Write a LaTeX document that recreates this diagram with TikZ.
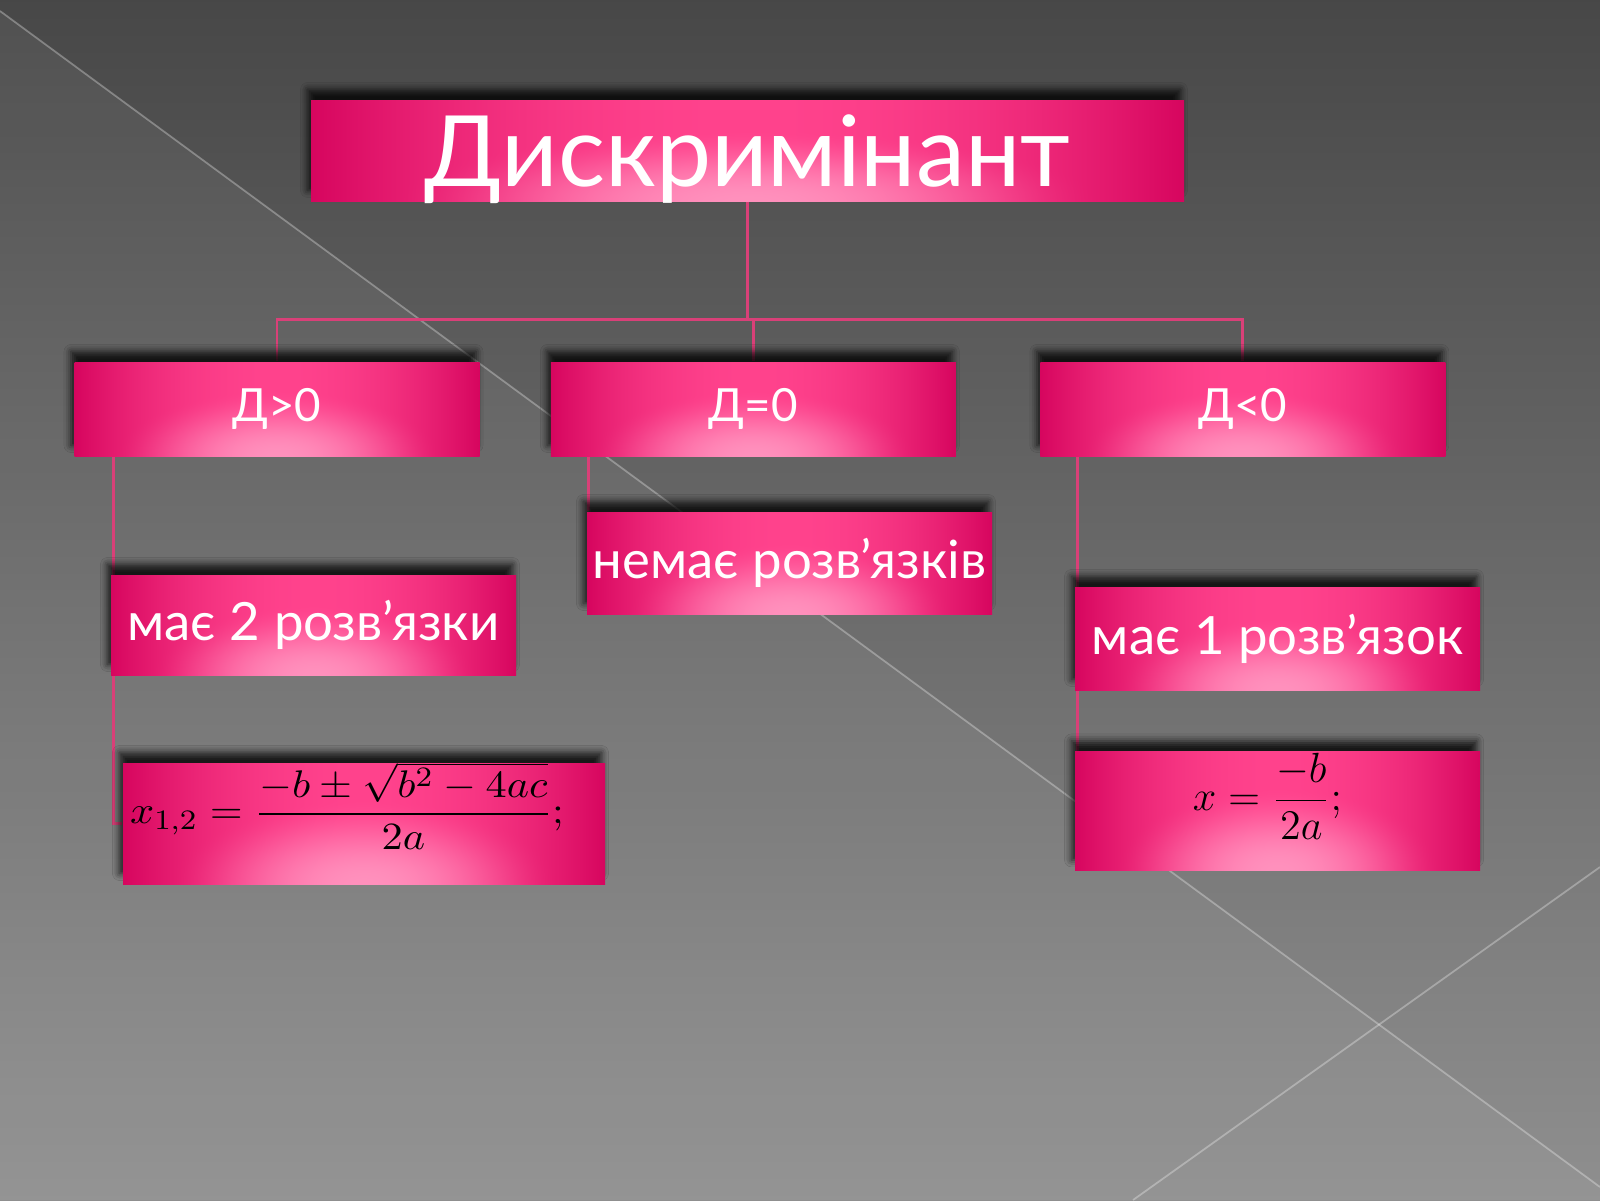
\documentclass[tikz,border=0pt]{standalone}
\usepackage{fontspec}
\setmainfont{Lato}
\usepackage{amsmath}
\usepackage{graphicx}
\usepackage{tikz}
\usetikzlibrary{positioning, calc, shadows.blur}
\definecolor{bgtop}{rgb}{0.28, 0.28, 0.28}
\definecolor{bgbot}{rgb}{0.56, 0.56, 0.56}
\definecolor{pinkline}{rgb}{0.85, 0.25, 0.47}
%% pink bar: dark edges, bright middle, light glow at the bottom centre
\pgfdeclarefunctionalshading{pinkshade}{\pgfpoint{-50bp}{-50bp}}{\pgfpoint{50bp}{50bp}}{}{
	2 mul exch 2 mul exch
	50 add 70 div dup mul exch dup 40 div dup mul 3 -1 roll add 1 exch sub dup 0 lt {pop 0} if dup mul 0.9 mul
	exch abs 50 div dup mul
	dup -0.16 mul 1 add dup 1 exch sub 3 index mul add
	1 index -0.24 mul 0.26 add dup 0.60 exch sub 4 index mul add
	2 index -0.18 mul 0.55 add dup 0.76 exch sub 5 index mul add
	5 3 roll pop pop
}
\pgfdeclarelayer{bg}
\pgfdeclarelayer{wires}
\pgfsetlayers{bg,wires,main}

\begin{document}
\begin{tikzpicture}[scale=1, every node/.style={transform shape}]
		\tikzstyle{pinkbox}=[rectangle, inner sep=0pt, minimum height=9.4mm, minimum width=40.5mm, shade, shading=pinkshade, text=white, font=\fontsize{15pt}{18pt}\selectfont, blur shadow={shadow xshift=-1pt, shadow yshift=3pt, shadow blur radius=2pt, shadow opacity=80}]
		\tikzstyle{formbox}=[pinkbox, text=black]
		\tikzstyle{link}=[draw=pinkline, line width=0.8pt]
		\tikzstyle{ray}=[draw=white, opacity=0.3, line width=0.5pt]
		
		\useasboundingbox (0,0) rectangle (16,-12);
		
		\node [pinkbox, minimum width=87.3mm, minimum height=10.1mm, text height=7.1mm, text depth=0mm, font=\fontsize{28pt}{33pt}\selectfont] (Disc) at (7.475,-1.505) {Дискримінант};
		
		\node [pinkbox, font=\fontsize{13pt}{16pt}\selectfont] (Gt) at (2.77,-4.09) {Д>0};
		\node [pinkbox, font=\fontsize{13pt}{16pt}\selectfont, right=0.7cm of Gt] (Eq) {Д=0};
		\node [pinkbox, font=\fontsize{13pt}{16pt}\selectfont, right=0.83cm of Eq] (Lt) {Д<0};
		
		\node [pinkbox, minimum height=10mm] (Two) at (3.135,-6.25) {має 2 розв’язки};
		\node [pinkbox, minimum height=10.2mm] (None) at (7.895,-5.63) {немає розв’язків};
		\node [pinkbox, minimum height=10.3mm] (One) at (12.775,-6.385) {має 1 розв’язок};
		
		\node [formbox, minimum width=48.2mm, minimum height=12.1mm, font=\fontsize{11pt}{13pt}\selectfont] (F2) at (3.64,-8.235) {\makebox[0pt]{\smash{\scalebox{1.1}[1]{$\displaystyle x_{1,2}=\frac{-b\pm\sqrt{b^2-4ac}}{2a};$}}\hspace{3.4mm}}};
		\node [formbox, minimum height=11.9mm, below=0.6cm of One, font=\fontsize{12.2pt}{14pt}\selectfont] (F1) {\makebox[0pt]{\smash{$\displaystyle x=\frac{-b}{2a};$}\hspace{2mm}}};
		
		%% connectors under the boxes
		\begin{pgfonlayer}{wires}
		\coordinate (Bus) at ($(Disc.south)+(0,-1.18)$);
		\draw [link] (Disc.south) -- (Bus) -| (Gt.north);
		\draw [link] (Bus) -| (Eq.north);
		\draw [link] (Bus) -| (Lt.north);
		
		\draw [link] ([xshift=4mm]Gt.south west) |- (F2.west);
		\coordinate (Nc) at ([xshift=0.2mm]None.north west);
		\draw [link] (Nc) -- (Nc |- Eq.south);
		\coordinate (Oc) at ([xshift=0.3mm]F1.north west);
		\draw [link] (Oc) -- (Oc |- Lt.south);
		\end{pgfonlayer}
		
		%% background
		\begin{pgfonlayer}{bg}
		\fill [top color=bgtop, bottom color=bgbot] (0,0) rectangle (16,-12);
		\fill [white, opacity=0.05] (0,-0.11) -- (16,-11.87) -- (16,-12) -- (0,-12) -- cycle;
		\draw [ray] (0,-0.11) -- (16,-11.87);
		\draw [ray] (16,-8.67) -- (11.33,-12);
		\end{pgfonlayer}
		
\end{tikzpicture}
\end{document}
